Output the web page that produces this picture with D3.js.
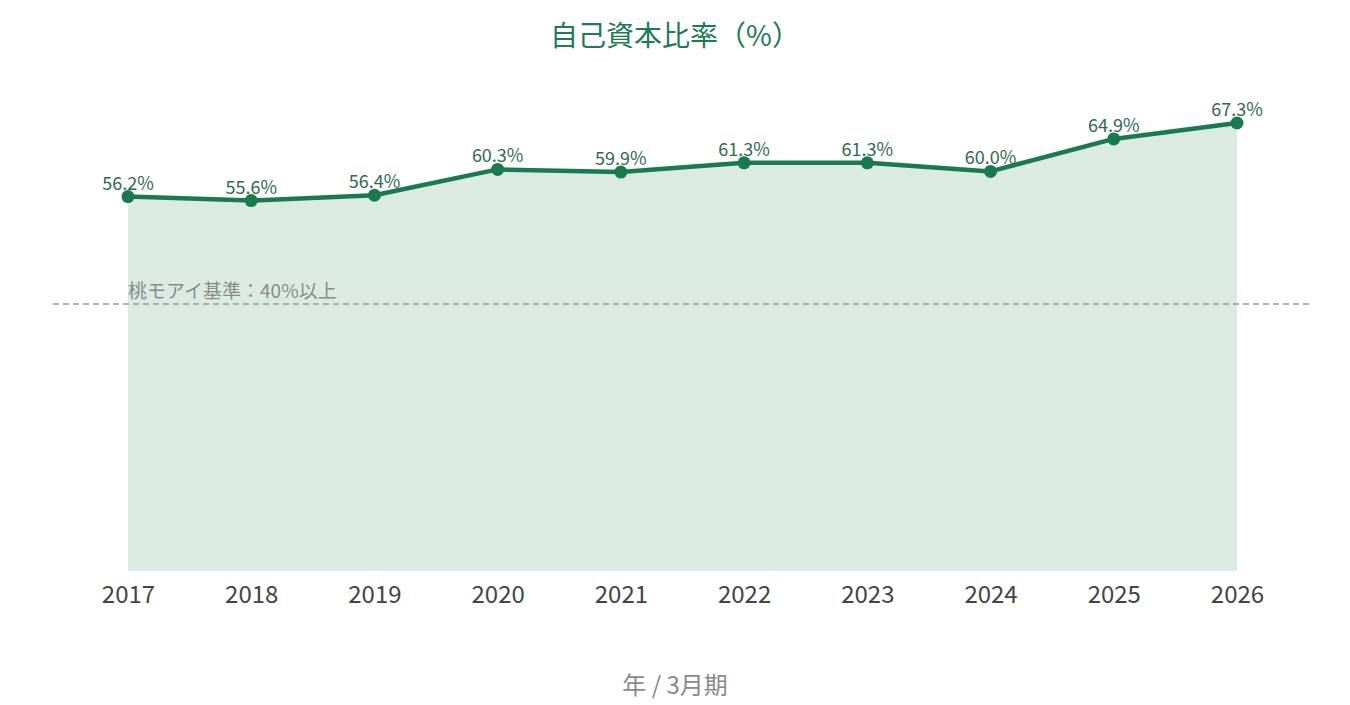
<!DOCTYPE html>
<html>
<head>
<meta charset="utf-8">
<script src="https://cdn.jsdelivr.net/npm/d3@7"></script>
<style>
body { margin: 0; background: #fff; }
text { font-family: "Noto Sans CJK JP", "Noto Sans", sans-serif; }
</style>
</head>
<body>
<div id="chart"></div>
<script>
// data
var years = ["2017", "2018", "2019", "2020", "2021", "2022", "2023", "2024", "2025", "2026"]
var ratio = [56.2, 55.6, 56.4, 60.3, 59.9, 61.3, 61.3, 60.0, 64.9, 67.3]
var threshold = 40
var thresholdLabel = "桃モアイ基準：40%以上"

var W = 1350, H = 705
var green = "#197a4f"

var svg = d3.select("#chart").append("svg")
    .attr("width", W)
    .attr("height", H)

var x = d3.scalePoint().domain(years).range([128, 1237])
var y = d3.scaleLinear().domain([0, 75]).range([569, 72])
var base = 571

var pts = years.map(function(d, i){ return {year: d, v: ratio[i]} })

// area
svg.append("path")
    .datum(pts)
    .attr("fill", "#dcebe2")
    .attr("d", d3.area()
        .x(function(d){ return x(d.year) })
        .y0(base)
        .y1(function(d){ return y(d.v) }))

// threshold line
svg.append("line")
    .attr("x1", 53).attr("x2", 1310)
    .attr("y1", y(threshold)).attr("y2", y(threshold))
    .attr("stroke", "#999")
    .attr("stroke-width", 1.5)
    .attr("stroke-dasharray", "6,4")

svg.append("text")
    .attr("x", 128)
    .attr("y", y(threshold) - 6)
    .attr("fill", "#8a8a8a")
    .style("font-size", "19px")
    .text(thresholdLabel)

// line
svg.append("path")
    .datum(pts)
    .attr("fill", "none")
    .attr("stroke", green)
    .attr("stroke-width", 4.5)
    .attr("stroke-linejoin", "round")
    .attr("d", d3.line()
        .x(function(d){ return x(d.year) })
        .y(function(d){ return y(d.v) }))

svg.selectAll(".dot").data(pts)
    .enter().append("circle")
    .attr("class", "dot")
    .attr("cx", function(d){ return x(d.year) })
    .attr("cy", function(d){ return y(d.v) })
    .attr("r", 6.5)
    .attr("fill", green)

svg.selectAll(".lbl").data(pts)
    .enter().append("text")
    .attr("class", "lbl")
    .attr("x", function(d){ return x(d.year) })
    .attr("y", function(d){ return y(d.v) - 7 })
    .attr("text-anchor", "middle")
    .attr("fill", "#2f6b4f")
    .style("font-size", "18px")
    .text(function(d){ return d.v.toFixed(1) + "%" })

// x axis (labels only)
var xAxis = svg.append("g")
    .attr("transform", "translate(0," + base + ")")
    .call(d3.axisBottom(x).tickSize(0).tickPadding(15))
xAxis.select(".domain").remove()
xAxis.selectAll("text")
    .attr("fill", "#444")
    .style("font-size", "24px")
    .style("font-family", "'Noto Sans CJK JP', 'Noto Sans', sans-serif")

// titles
svg.append("text")
    .attr("x", W / 2)
    .attr("y", 46)
    .attr("text-anchor", "middle")
    .attr("fill", "#1d7a53")
    .style("font-size", "28px")
    .text("自己資本比率（%）")

svg.append("text")
    .attr("x", W / 2)
    .attr("y", 694)
    .attr("text-anchor", "middle")
    .attr("fill", "#8a8a8a")
    .style("font-size", "24px")
    .text("年 / 3月期")
</script>
</body>
</html>
